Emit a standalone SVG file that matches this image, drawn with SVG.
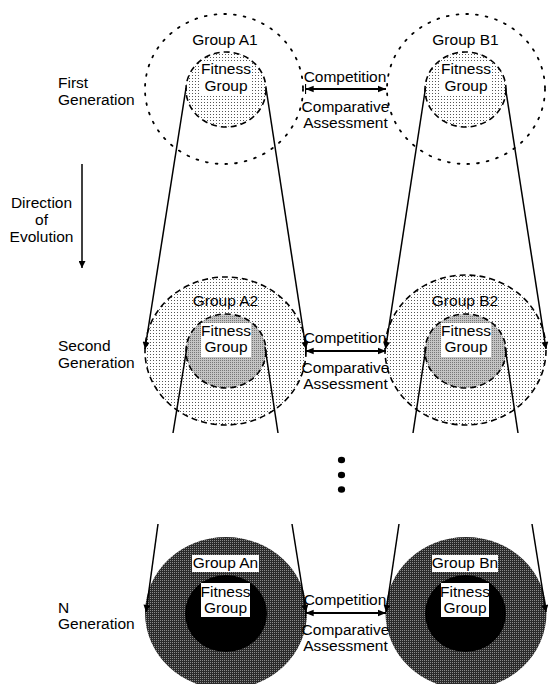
<svg xmlns="http://www.w3.org/2000/svg" width="549" height="684" viewBox="0 0 549 684">
<style>
text{font-family:"Liberation Sans",Arial,sans-serif;font-size:15.5px;fill:#000}
.c{text-anchor:middle}
.conn{stroke:#000;stroke-width:1.5;fill:none}
.cmp{stroke:#000;stroke-width:2.2;fill:none}
.dot1{fill:none;stroke:#000;stroke-width:1.8;stroke-dasharray:1.8 8;stroke-linecap:round}
.dash{stroke:#000;stroke-width:1.6;stroke-dasharray:6 4}
.wb{fill:#fff}
</style>
<defs>
<pattern id="pLight" width="3" height="3" patternUnits="userSpaceOnUse">
<rect width="3" height="3" fill="#fff"/><rect width="1" height="1" fill="#555"/>
</pattern>
<pattern id="pMed" width="2" height="2" patternUnits="userSpaceOnUse">
<rect width="2" height="2" fill="#c4c4c4"/><rect width="1" height="1" fill="#777"/>
</pattern>
<pattern id="pDark" width="2" height="2" patternUnits="userSpaceOnUse">
<rect width="2" height="2" fill="#2a2a2a"/><rect width="1" height="1" fill="#8a8a8a"/>
</pattern>
<marker id="arr" viewBox="0 0 10 10" refX="10" refY="5" markerWidth="8" markerHeight="7" markerUnits="userSpaceOnUse" orient="auto">
<path d="M0,0 L10,5 L0,10 z" fill="#000"/>
</marker>
<marker id="arrS" viewBox="0 0 10 10" refX="10" refY="5" markerWidth="8" markerHeight="8" markerUnits="userSpaceOnUse" orient="auto-start-reverse">
<path d="M0,1 L10,5 L0,9 z" fill="#000"/>
</marker>
<marker id="arrT" viewBox="0 0 11 12" refX="10" refY="6" markerWidth="9" markerHeight="10" markerUnits="userSpaceOnUse" orient="auto-start-reverse">
<path d="M0,2 L10,6 L0,10 z" fill="#000"/><path d="M10,0 V12" stroke="#000" stroke-width="1.5"/>
</marker>
</defs>

<g id="labels">
<text x="58" y="88">First</text>
<text x="58" y="105">Generation</text>
<text x="41.5" y="208" class="c">Direction</text>
<text x="41.5" y="225" class="c">of</text>
<text x="41.5" y="242" class="c">Evolution</text>
<text x="58" y="351">Second</text>
<text x="58" y="368">Generation</text>
<text x="58" y="613">N</text>
<text x="58" y="629">Generation</text>
</g>

<g id="groupA1">
<ellipse cx="224" cy="89" rx="79" ry="75" class="dot1"/>
<ellipse cx="226" cy="89.5" rx="40" ry="37.5" fill="url(#pLight)" class="dash"/>
<text x="225" y="45" class="c">Group A1</text>
<rect x="201" y="61" width="50" height="34" class="wb"/>
<text x="226" y="74" class="c">Fitness</text>
<text x="226" y="91" class="c">Group</text>
</g>
<g id="groupB1">
<ellipse cx="466" cy="89" rx="79" ry="75" class="dot1"/>
<ellipse cx="465.5" cy="89.5" rx="40.5" ry="37.5" fill="url(#pLight)" class="dash"/>
<text x="465.5" y="45" class="c">Group B1</text>
<rect x="441" y="61" width="50" height="34" class="wb"/>
<text x="466" y="74" class="c">Fitness</text>
<text x="466" y="91" class="c">Group</text>
</g>

<g id="groupA2">
<ellipse cx="225.5" cy="351" rx="80.5" ry="74" fill="url(#pLight)" class="dash"/>
<ellipse cx="226" cy="351" rx="40" ry="37" fill="url(#pMed)" class="dash"/>
<text x="225.5" y="306" class="c">Group A2</text>
<rect x="201" y="323" width="50" height="34" class="wb"/>
<text x="226" y="336" class="c">Fitness</text>
<text x="226" y="352" class="c">Group</text>
</g>
<g id="groupB2">
<ellipse cx="465.5" cy="350" rx="80.5" ry="75" fill="url(#pLight)" class="dash"/>
<ellipse cx="465.5" cy="351" rx="40.5" ry="37" fill="url(#pMed)" class="dash"/>
<text x="465" y="306" class="c">Group B2</text>
<rect x="441" y="323" width="50" height="34" class="wb"/>
<text x="466" y="336" class="c">Fitness</text>
<text x="466" y="352" class="c">Group</text>
</g>

<g id="groupAn">
<ellipse cx="226" cy="613" rx="81" ry="76" fill="url(#pDark)"/>
<ellipse cx="226" cy="613.5" rx="41" ry="38.5" fill="#000"/>
<rect x="192" y="555" width="67" height="17" class="wb"/>
<text x="225.5" y="568" class="c">Group An</text>
<rect x="201" y="583" width="49" height="34" class="wb"/>
<text x="225.5" y="597" class="c">Fitness</text>
<text x="225.5" y="613" class="c">Group</text>
</g>
<g id="groupBn">
<ellipse cx="466" cy="613" rx="80.5" ry="76" fill="url(#pDark)"/>
<ellipse cx="465.5" cy="613.5" rx="40.5" ry="38.5" fill="#000"/>
<rect x="432" y="555" width="66" height="17" class="wb"/>
<text x="465" y="568" class="c">Group Bn</text>
<rect x="441" y="583" width="48" height="34" class="wb"/>
<text x="465" y="597" class="c">Fitness</text>
<text x="465" y="613" class="c">Group</text>
</g>

<g id="ellipsis">
<ellipse cx="341.5" cy="460" rx="3.6" ry="3.2" fill="#000"/>
<ellipse cx="341.5" cy="475" rx="3.6" ry="3.2" fill="#000"/>
<ellipse cx="341.5" cy="489.5" rx="3.6" ry="3.2" fill="#000"/>
</g>

<g id="connectors">
<line x1="82" y1="164" x2="82" y2="268" class="conn" marker-end="url(#arr)"/>
<line x1="186" y1="88" x2="145" y2="349" class="conn" marker-end="url(#arr)"/>
<line x1="266" y1="88" x2="306" y2="349" class="conn" marker-end="url(#arr)"/>
<line x1="425.5" y1="88" x2="385.5" y2="349" class="conn" marker-end="url(#arr)"/>
<line x1="505.5" y1="88" x2="546" y2="349" class="conn" marker-end="url(#arr)"/>
<line x1="187" y1="347" x2="173" y2="433" class="conn"/>
<line x1="265" y1="347" x2="278" y2="433" class="conn"/>
<line x1="426" y1="347" x2="413" y2="433" class="conn"/>
<line x1="505" y1="347" x2="518" y2="433" class="conn"/>
<line x1="158" y1="524" x2="146" y2="612" class="conn" marker-end="url(#arr)"/>
<line x1="292" y1="524" x2="306" y2="612" class="conn" marker-end="url(#arr)"/>
<line x1="399" y1="524" x2="386" y2="612" class="conn" marker-end="url(#arr)"/>
<line x1="532" y1="524" x2="546" y2="612" class="conn" marker-end="url(#arr)"/>
<line x1="305.5" y1="89" x2="386" y2="89" class="cmp" marker-start="url(#arrT)" marker-end="url(#arrS)"/>
<line x1="305.5" y1="351" x2="386" y2="351" class="cmp" marker-start="url(#arrT)" marker-end="url(#arrS)"/>
<line x1="305.5" y1="613" x2="386" y2="613" class="cmp" marker-start="url(#arrT)" marker-end="url(#arrS)"/>
</g>

<g id="competition-labels">
<text x="345" y="82" class="c">Competition</text>
<text x="345.5" y="112" class="c">Comparative</text>
<text x="345.5" y="128" class="c">Assessment</text>
<text x="345" y="343" class="c">Competition</text>
<text x="345.5" y="373" class="c">Comparative</text>
<text x="345.5" y="389" class="c">Assessment</text>
<text x="345" y="605" class="c">Competition</text>
<text x="345.5" y="635" class="c">Comparative</text>
<text x="345.5" y="651" class="c">Assessment</text>
</g>
</svg>
